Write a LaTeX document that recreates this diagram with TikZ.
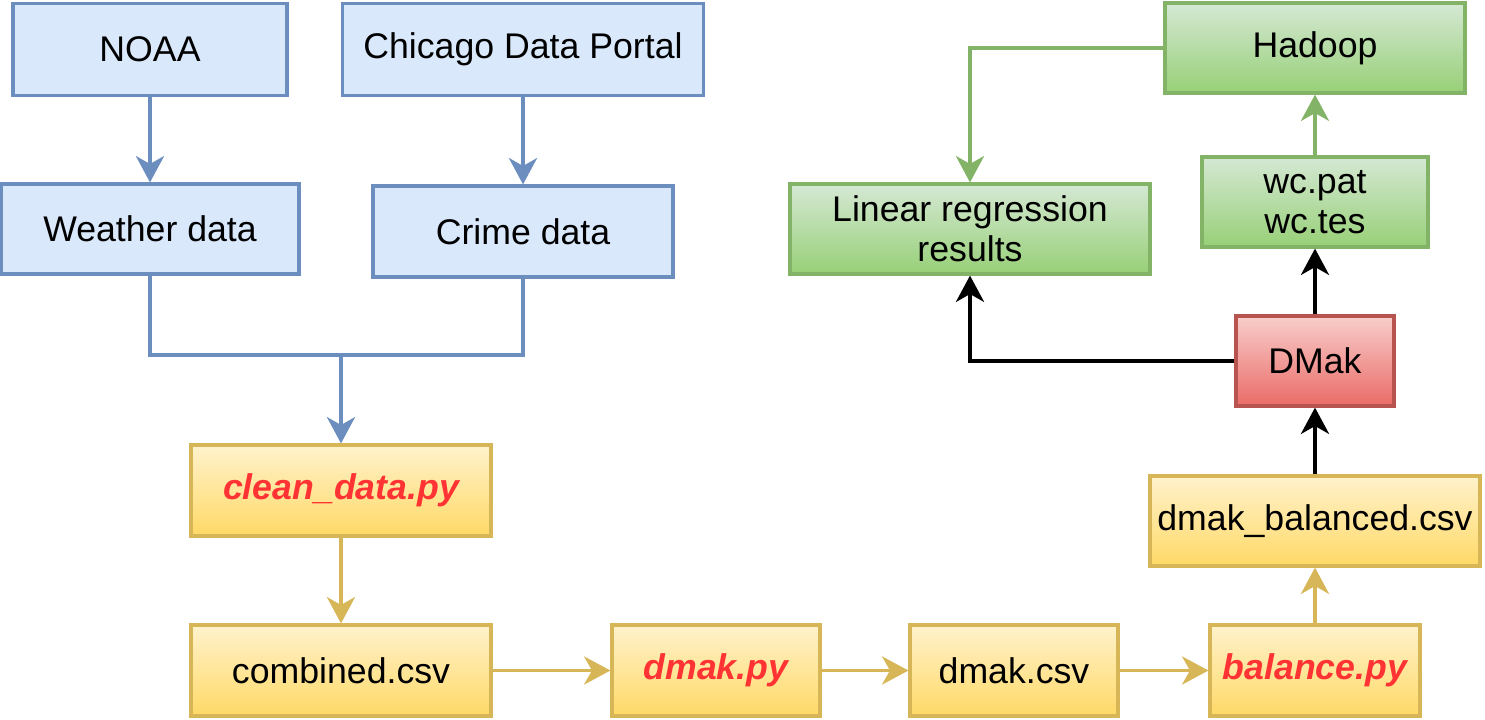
\documentclass[tikz,border=0pt]{standalone}
\usepackage{fontspec}
\setmainfont{Liberation Sans}
\usetikzlibrary{arrows.meta}
\definecolor{bfill}{HTML}{DAE8FC}
\definecolor{bline}{HTML}{6C8EBF}
\definecolor{ytop}{HTML}{FFF2CC}
\definecolor{ybot}{HTML}{FFD966}
\definecolor{yline}{HTML}{D6B656}
\definecolor{gtop}{HTML}{D5E8D4}
\definecolor{gbot}{HTML}{97D077}
\definecolor{gline}{HTML}{82B366}
\definecolor{rtop}{HTML}{F8CECC}
\definecolor{rbot}{HTML}{EA6B66}
\definecolor{rline}{HTML}{B85450}
\definecolor{redtext}{HTML}{FF3333}
\begin{document}
\begin{tikzpicture}[x=0.02cm,y=-0.02cm,
  box/.style={rectangle,line width=1.8pt,inner sep=0pt,align=center,
    font=\fontsize{20.3}{22.7}\selectfont,text=black},
  bluebox/.style={box,draw=bline,fill=bfill},
  yellowbox/.style={box,draw=yline,top color=ytop,bottom color=ybot},
  greenbox/.style={box,draw=gline,top color=gtop,bottom color=gbot},
  redbox/.style={box,draw=rline,top color=rtop,bottom color=rbot},
  script/.style={text=redtext,font=\fontsize{20.3}{22.7}\selectfont\bfseries\itshape},
  tip/.style={-{Stealth[length=15pt,width=16pt,inset=4.5pt]}},
  conn/.style={line width=2.1pt},
  bconn/.style={conn,draw=bline},
  yconn/.style={conn,draw=yline},
  gconn/.style={conn,draw=gline},
  kconn/.style={conn,draw=black}]
\useasboundingbox (0,0) rectangle (1485,720);
\node[bluebox,minimum width=274*0.02cm,minimum height=92*0.02cm] (noaa) at (150,49.5) {NOAA};
\node[bluebox,minimum width=361*0.02cm,minimum height=92*0.02cm] (chicago) at (523,49.5) {Chicago Data Portal};
\node[bluebox,minimum width=298*0.02cm,minimum height=90*0.02cm] (weather) at (150,229) {Weather data};
\node[bluebox,minimum width=300*0.02cm,minimum height=91*0.02cm] (crime) at (523,231.5) {Crime data};
\node[yellowbox,script,minimum width=300*0.02cm,minimum height=91*0.02cm] (clean) at (341,490.5) {clean\_data.py};
\node[yellowbox,minimum width=300*0.02cm,minimum height=91*0.02cm] (combined) at (341,670.5) {combined.csv};
\node[yellowbox,script,minimum width=208*0.02cm,minimum height=91*0.02cm] (dmakpy) at (716,670.5) {dmak.py};
\node[yellowbox,minimum width=208*0.02cm,minimum height=91*0.02cm] (dmakcsv) at (1014,670.5) {dmak.csv};
\node[yellowbox,script,minimum width=210*0.02cm,minimum height=91*0.02cm] (balance) at (1315,670.5) {balance.py};
\node[yellowbox,minimum width=330*0.02cm,minimum height=90*0.02cm] (dmakbal) at (1315,521) {dmak\_balanced.csv};
\node[redbox,minimum width=158*0.02cm,minimum height=90*0.02cm] (dmak) at (1315,361) {DMak};
\node[greenbox,minimum width=226*0.02cm,minimum height=90*0.02cm] (wc) at (1315,202) {wc.pat\\wc.tes};
\node[greenbox,minimum width=300*0.02cm,minimum height=90*0.02cm] (hadoop) at (1315,48) {Hadoop};
\node[greenbox,minimum width=360*0.02cm,minimum height=90*0.02cm] (linear) at (970,229) {Linear regression\\results};
\coordinate (join) at (341,355);
\draw[bconn,tip] (noaa) -- (weather);
\draw[bconn,tip] (chicago.south) -- (crime.north);
\draw[bconn] (weather.south) |- (join) -| (crime.south);
\draw[bconn,tip] (join) -- (clean.north);
\draw[yconn,tip] (clean) -- (combined);
\draw[yconn,tip] (combined) -- (dmakpy);
\draw[yconn,tip] (dmakpy) -- (dmakcsv);
\draw[yconn,tip] (dmakcsv) -- (balance);
\draw[yconn,tip] (balance) -- (dmakbal);
\draw[kconn,tip] (dmakbal) -- (dmak);
\draw[kconn,tip] (dmak) -- (wc);
\draw[kconn,tip] (dmak.west) -| (linear.south);
\draw[gconn,tip] (wc) -- (hadoop);
\draw[gconn,tip] (hadoop.west) -| (linear.north);
\end{tikzpicture}
\end{document}
